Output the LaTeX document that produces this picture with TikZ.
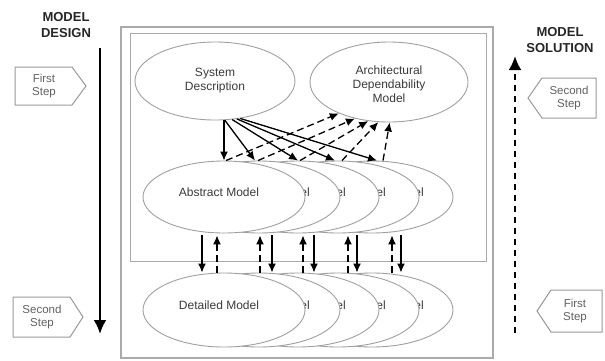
\documentclass[tikz,border=0pt]{standalone}
\usepackage{fontspec}
\setmainfont{Liberation Sans}
\usetikzlibrary{arrows.meta,shapes.geometric}
\definecolor{txtgray}{HTML}{3A3A3A}
\definecolor{ellgray}{HTML}{A0A0A0}
\definecolor{framegray}{HTML}{AAAAAA}
\definecolor{boxgray}{HTML}{999999}
\newcommand{\eltxt}[2]{\raisebox{1pt}[0pt][0pt]{\hspace*{#1}#2}}
\begin{document}
\begin{tikzpicture}[x=1pt,y=-1pt,
  every node/.style={font=\fontsize{12}{14}\selectfont, text=txtgray, align=center},
  ell/.style={ellipse, draw=ellgray, line width=0.9pt, fill=white, inner sep=0pt},
  sdell/.style={ell, minimum width=160pt, minimum height=78pt},
  mell/.style={ell, minimum width=162pt, minimum height=72pt},
  dell/.style={ell, minimum width=162pt, minimum height=74pt},
  frag/.style={inner sep=0pt},
  stepbox/.style={draw=boxgray, line width=1pt, fill=white},
  steptext/.style={font=\fontsize{11.5}{13.5}\selectfont, text=txtgray!80},
  arr/.style={line width=1.3pt, -{Latex[length=9pt,width=8pt]}},
  darr/.style={arr, dash pattern=on 7pt off 4pt},
  bigarr/.style={line width=2.6pt, -{Latex[length=14pt,width=13pt]}},
  heading/.style={font=\fontsize{13}{16}\selectfont\bfseries, text=black!85},
]
\useasboundingbox (0,0) rectangle (605,360);
\fill[white] (0,0) rectangle (605,360);

% frames
\draw[framegray, line width=1.5pt] (121,27) rectangle (493,358);
\draw[framegray, line width=1pt] (130,33) rectangle (486,261);

% top ellipses
\node[sdell] (sd) at (215,81) {System\\Description};
\node[sdell, minimum width=158pt, minimum height=80pt] (adm) at (389,82) {\raisebox{-7pt}[0pt][0pt]{\begin{tabular}{@{}c@{}}Architectural\\Dependability\\Model\end{tabular}}};

% abstract models (back to front)
\node[mell] (am5) at (372,197) {};
\node[frag] (am5t) at (419,192) {el};
\node[mell] (am4) at (338,197) {};
\node[frag] (am4t) at (381,192) {el};
\node[mell] (am3) at (298,197) {};
\node[frag] (am3t) at (341,192) {el};
\node[mell] (am2) at (259,197) {};
\node[frag] (am2t) at (305,192) {el};
\node[mell] (am1) at (224,197) {\eltxt{-10pt}{Abstract Model}};

% detailed models (back to front)
\node[dell] (dm5) at (372,310) {};
\node[frag] (dm5t) at (419,305) {el};
\node[dell] (dm4) at (338,310) {};
\node[frag] (dm4t) at (381,305) {el};
\node[dell] (dm3) at (298,310) {};
\node[frag] (dm3t) at (341,305) {el};
\node[dell] (dm2) at (259,310) {};
\node[frag] (dm2t) at (305,305) {el};
\node[dell] (dm1) at (224,310) {\eltxt{-10pt}{Detailed Model}};

% fan: system description -> abstract models
\draw[arr] (sd.south -| am1.north) -- (am1.north);
\draw[arr] (sd.-76) -- ([xshift=-4pt]am2.north);
\draw[arr] (sd.-66) -- (am3.north);
\draw[arr] (sd.-60) -- ([xshift=-3pt]am4.north);
\draw[arr] (sd.-56) -- ([xshift=5pt]am5.north);

% fan: abstract models -> architectural dependability model
\draw[darr] ([xshift=2pt]am1.north) -- (adm.-148);
\draw[darr] ([xshift=-1pt]am2.north) -- (adm.-133);
\draw[darr] ([xshift=2pt]am3.north) -- (adm.-118);
\draw[darr] ([xshift=4pt]am4.north) -- (adm.-105);
\draw[darr] ([xshift=11pt]am5.north) -- (adm.-89);

% abstract <-> detailed
\draw[arr]  ([xshift=-22pt,yshift=-2pt]am1.south) -- ([xshift=-22pt]dm1.north);
\draw[darr] ([xshift=-7pt]dm1.north) -- ([xshift=-7pt,yshift=-2pt]am1.south);
\draw[darr] ([xshift=1pt]dm2.north) -- ([xshift=1pt,yshift=-2pt]am2.south);
\draw[arr]  ([xshift=13pt,yshift=-2pt]am2.south) -- ([xshift=13pt]dm2.north);
\draw[darr] ([xshift=5pt]dm3.north) -- ([xshift=5pt,yshift=-2pt]am3.south);
\draw[arr]  ([xshift=16pt,yshift=-2pt]am3.south) -- ([xshift=16pt]dm3.north);
\draw[darr] ([xshift=10pt]dm4.north) -- ([xshift=10pt,yshift=-2pt]am4.south);
\draw[arr]  ([xshift=19pt,yshift=-2pt]am4.south) -- ([xshift=19pt]dm4.north);
\draw[darr] ([xshift=20pt]dm5.north) -- ([xshift=20pt,yshift=-2pt]am5.south);
\draw[arr]  ([xshift=29pt,yshift=-2pt]am5.south) -- ([xshift=29pt]dm5.north);

% left side: model design
\node[heading] (mdes) at (66,25) {MODEL\\DESIGN};
\coordinate (dtop) at (100,48);
\coordinate (dbot) at (100,334);
\draw[bigarr] (dtop) -- (dbot);
\draw[stepbox] (15,67) -- (72,67) -- (86,86) -- (72,105) -- (15,105) -- cycle;
\node[steptext] (ls1) at (44,86) {First\\Step};
\draw[stepbox] (13,297) -- (70,297) -- (83,317) -- (70,337) -- (13,337) -- cycle;
\node[steptext] (ls2) at (42,317) {Second\\Step};

% right side: model solution
\node[heading] (msol) at (560,40) {MODEL\\SOLUTION};
\coordinate (sbot) at (515,333);
\coordinate (stop) at (515,56);
\draw[bigarr, dash pattern=on 6pt off 5pt] (sbot) -- (stop);
\draw[stepbox] (528,98) -- (542,78) -- (596,78) -- (596,118) -- (542,118) -- cycle;
\node[steptext] (rs2) at (569,98) {Second\\Step};
\draw[stepbox] (537,311) -- (551,290) -- (602,290) -- (602,332) -- (551,332) -- cycle;
\node[steptext] (rs1) at (575,311) {First\\Step};
\end{tikzpicture}
\end{document}
